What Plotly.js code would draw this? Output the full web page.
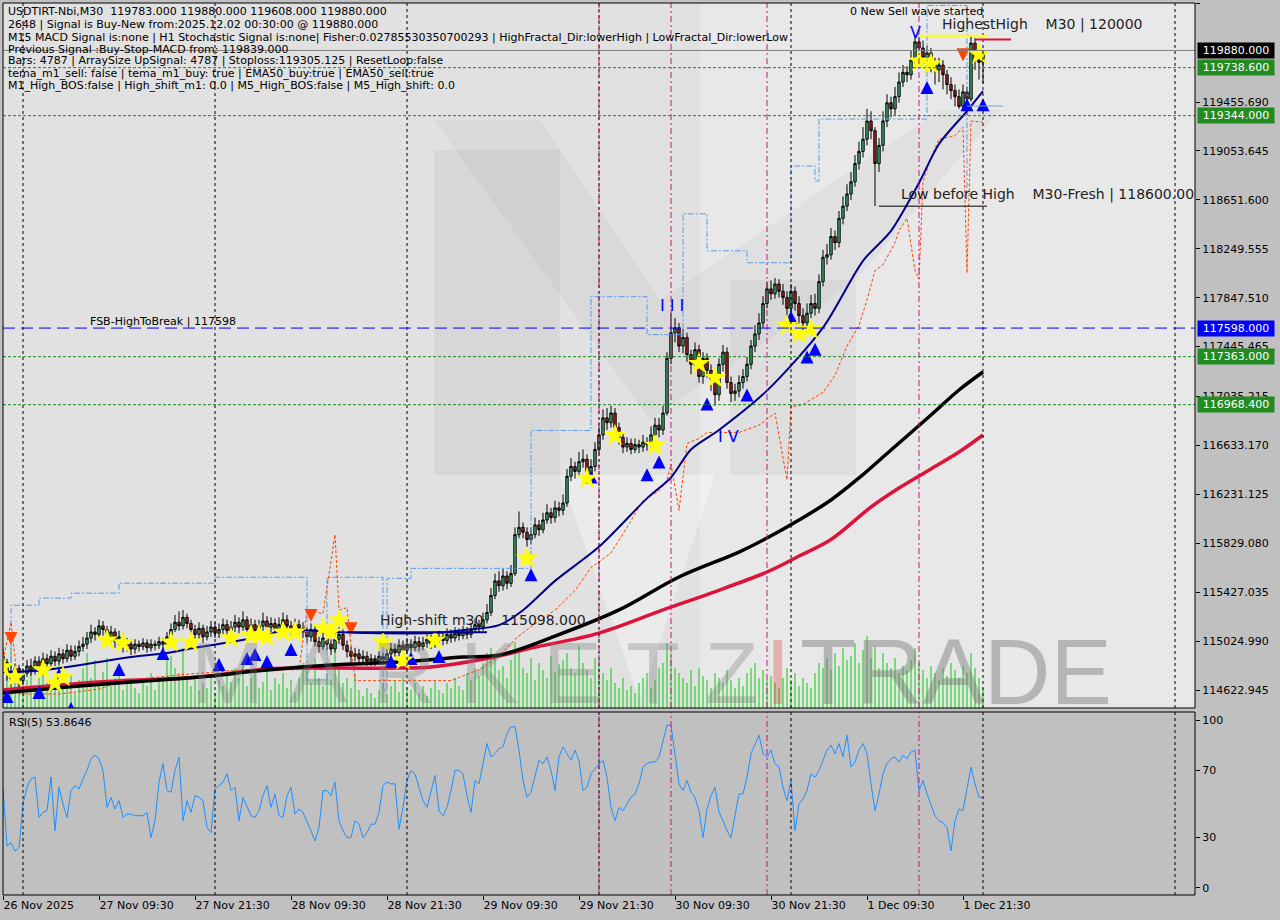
<!DOCTYPE html>
<html><head><meta charset="utf-8">
<script src="https://cdn.plot.ly/plotly-3.0.1.min.js"></script>
<style>html,body{margin:0;padding:0;background:#c0c0c0;}#chart{width:1280px;height:920px;}</style>
</head><body><div id="chart"></div>
<script>
// ---------------- DATA ----------------
const symbolName = "USDTIRT-Nbi,M30";
const tickBars = [0,24,48,72,96,120,144,168,192,216,240];
const tickLabels = ["26 Nov 2025","27 Nov 09:30","27 Nov 21:30","28 Nov 09:30","28 Nov 21:30","29 Nov 09:30","29 Nov 21:30","30 Nov 09:30","30 Nov 21:30","1 Dec 09:30","1 Dec 21:30"];
const priceTicks = [120267.985,119455.690,119053.645,118651.600,118249.555,117847.510,117445.465,117035.215,116633.170,116231.125,115829.080,115427.035,115024.990,114622.945];
const rsiTicks = [0,30,70,100];

const opens = [114900,114850,114780,114720,114800,114700,114760,114820,114780,114860,
114800,114880,114840,114900,114860,114920,114880,114950,114900,114940,
114980,115000,115050,115100,115080,115150,115120,115060,115100,115020,
115060,114980,115000,114960,115000,114980,115010,114970,115000,114990,
115020,115000,115060,115120,115180,115150,115220,115170,115120,115080,
115130,115060,115100,115140,115090,115120,115160,115110,115140,115180,
115140,115200,115120,115160,115110,115150,115190,115140,115170,115120,
115160,115200,115150,115110,115160,115130,115100,115060,115120,115020,
114980,115050,115000,114960,115040,115080,114990,114940,114900,114920,
114880,114900,114860,114880,114860,114900,114870,114920,114960,114930,
114990,114950,115000,114970,115020,114980,115010,115040,115000,115040,
115060,115030,115080,115050,115090,115070,115100,115080,115120,115160,
115140,115200,115260,115400,115520,115480,115560,115500,115580,115900,
115960,115920,115860,115900,115980,115940,116020,116080,116040,116120,
116100,116160,116380,116460,116420,116500,116520,116380,116460,116600,
116720,116860,116820,116900,116780,116700,116620,116650,116600,116640,
116620,116660,116640,116720,116800,116760,116900,117350,117560,117600,
117450,117520,117380,117300,117420,117200,117350,117250,117180,117050,
117300,117400,117150,117060,117080,117150,117200,117300,117450,117550,
117640,117800,117920,117880,117960,117900,117850,117760,117900,117800,
117700,117640,117720,117800,117760,117980,118180,118200,118350,118300,
118500,118600,118700,118800,118950,119050,119150,119300,119220,118950,
119100,119300,119450,119400,119500,119620,119700,119680,119800,119950,
119900,119820,119860,119780,119720,119760,119680,119600,119550,119500,
119420,119540,119480,119940,119800,119783];

const highs = [114960,114880,114820,114840,114830,114800,114870,114880,114900,114900,
114930,114920,114950,114940,114970,114960,115000,114990,114990,115030,
115060,115100,115160,115140,115200,115190,115150,115150,115130,115110,
115090,115050,115040,115040,115030,115050,115040,115040,115030,115060,
115050,115100,115170,115240,115270,115280,115250,115200,115160,115180,
115160,115150,115190,115180,115170,115210,115200,115190,115240,115220,
115270,115230,115210,115200,115200,115260,115230,115220,115210,115220,
115260,115240,115190,115210,115200,115180,115140,115170,115150,115060,
115100,115090,115040,115110,115140,115120,115030,114980,114970,114960,
114950,114940,114920,114910,114940,114930,114970,115010,115000,115040,
115030,115050,115040,115070,115060,115060,115090,115080,115090,115110,
115100,115130,115120,115140,115130,115150,115140,115170,115210,115200,
115260,115330,115460,115580,115600,115620,115600,115650,115960,116090,
116000,115960,115960,116040,116020,116080,116150,116120,116180,116170,
116230,116440,116530,116500,116580,116600,116560,116520,116660,116780,
116930,116940,116960,116940,116820,116740,116700,116690,116690,116680,
116720,116700,116790,116860,116860,116960,117400,117720,117680,117640,
117590,117560,117420,117480,117460,117400,117390,117300,117220,117350,
117460,117440,117200,117140,117210,117260,117360,117500,117620,117720,
117860,117980,117990,118010,118000,117960,117900,117960,117940,117860,
117760,117800,117870,117880,118040,118240,118290,118420,118400,118560,
118680,118780,118880,119020,119130,119250,119400,119380,119250,119160,
119380,119520,119500,119580,119700,119760,119750,119880,120000,119990,
119960,119920,119900,119820,119820,119800,119720,119660,119600,119560,
119600,119580,119990,119980,119860,119880];

const lows = [114800,114700,114650,114690,114640,114660,114730,114740,114750,114760,
114780,114800,114810,114820,114830,114840,114850,114860,114870,114900,
114940,114960,115010,115030,115050,115070,115020,115010,114970,114980,
114930,114940,114910,114920,114940,114950,114930,114940,114950,114960,
114960,114970,115030,115100,115110,115120,115130,115080,115030,115040,
115010,115030,115060,115050,115050,115080,115070,115070,115100,115090,
115110,115080,115080,115060,115070,115110,115090,115100,115080,115090,
115120,115100,115060,115070,115080,115050,115010,115020,114980,114930,
114950,114950,114910,114930,115000,114950,114890,114850,114860,114830,
114840,114820,114820,114820,114830,114830,114840,114890,114890,114900,
114910,114920,114930,114940,114940,114950,114970,114960,114970,115000,
114990,115000,115010,115020,115030,115040,115040,115050,115090,115100,
115110,115170,115230,115370,115430,115440,115450,115470,115560,115870,
115870,115800,115820,115870,115890,115910,115990,115990,116000,116050,
116060,116130,116340,116360,116390,116450,116320,116340,116420,116560,
116680,116760,116780,116720,116640,116570,116580,116560,116570,116570,
116580,116590,116600,116680,116700,116720,116880,117300,117480,117400,
117390,117320,117220,117260,117150,117140,117190,117080,116960,117000,
117240,117100,116990,117000,117030,117100,117160,117260,117400,117500,
117600,117760,117830,117840,117850,117790,117700,117720,117740,117620,
117580,117600,117680,117700,117720,117940,118120,118160,118240,118260,
118450,118560,118650,118760,118900,119000,119100,119150,118600,118880,
119050,119250,119330,119350,119450,119580,119620,119640,119760,119820,
119760,119740,119700,119600,119620,119560,119520,119480,119420,119400,
119380,119350,119460,119720,119640,119608];

const closes = [114850,114780,114720,114800,114700,114760,114820,114780,114860,114800,
114880,114840,114900,114860,114920,114880,114950,114900,114940,114980,
115000,115050,115100,115080,115150,115120,115060,115100,115020,115060,
114980,115000,114960,115000,114980,115010,114970,115000,114990,115020,
115000,115060,115120,115180,115150,115220,115170,115120,115080,115130,
115060,115100,115140,115090,115120,115160,115110,115140,115180,115140,
115200,115120,115160,115110,115150,115190,115140,115170,115120,115160,
115200,115150,115110,115160,115130,115100,115060,115120,115020,114980,
115050,115000,114960,115040,115080,114990,114940,114900,114920,114880,
114900,114860,114880,114860,114900,114870,114920,114960,114930,114990,
114950,115000,114970,115020,114980,115010,115040,115000,115040,115060,
115030,115080,115050,115090,115070,115100,115080,115120,115160,115140,
115200,115260,115400,115520,115480,115560,115500,115580,115900,115960,
115920,115860,115900,115980,115940,116020,116080,116040,116120,116100,
116160,116380,116460,116420,116500,116520,116380,116460,116600,116720,
116860,116820,116900,116780,116700,116620,116650,116600,116640,116620,
116660,116640,116720,116800,116760,116900,117350,117560,117600,117450,
117520,117380,117300,117420,117200,117350,117250,117180,117050,117300,
117400,117150,117060,117080,117150,117200,117300,117450,117550,117640,
117800,117920,117880,117960,117900,117850,117760,117900,117800,117700,
117640,117720,117800,117760,117980,118180,118200,118350,118300,118500,
118600,118700,118800,118950,119050,119150,119300,119220,118950,119100,
119300,119450,119400,119500,119620,119700,119680,119800,119950,119900,
119820,119860,119780,119720,119760,119680,119600,119550,119500,119420,
119540,119480,119940,119800,119783,119880];

const volumes = [30,45,60,25,35,20,28,40,22,30,
35,25,18,30,45,20,26,33,15,28,
40,55,30,48,25,36,50,22,30,44,
18,25,30,20,15,28,22,35,18,26,
30,48,52,40,35,60,28,22,30,18,
25,20,32,15,28,22,35,26,40,30,
45,22,30,38,20,26,42,18,30,24,
35,20,28,16,30,45,38,26,50,30,
22,35,28,60,40,25,30,20,35,18,
12,20,15,10,18,25,14,22,28,16,
30,20,18,25,15,22,12,20,28,18,
15,25,20,30,22,18,35,28,40,32,
45,55,60,50,38,42,30,48,66,55,
40,35,50,28,45,38,30,52,36,44,
48,55,40,35,62,45,38,30,50,42,
35,28,40,25,20,30,18,22,15,25,
30,35,20,28,40,45,65,55,40,35,
30,25,38,22,40,32,28,20,35,30,
25,38,28,20,30,22,35,40,45,30,
38,28,32,25,20,30,40,28,35,22,
30,25,20,35,45,40,50,38,55,42,
60,48,52,65,45,58,72,50,62,40,
55,45,40,50,35,42,38,48,60,45,
38,30,42,35,28,40,32,45,38,30,
42,35,55,40,30,20];

const rsiValues = [60,25,27,22,24,50,60,65,66,42,
45,46,66,34,60,50,42,58,61,59,
65,70,77,79,77,70,48,54,47,52,
42,44,44,43,43,43,45,30,40,63,
74,58,57,70,78,40,52,45,55,54,
52,36,33,59,61,63,68,58,60,40,
54,48,43,42,46,55,61,48,56,43,
42,55,60,44,47,45,40,34,28,36,
58,58,55,63,40,34,30,30,40,38,
30,33,38,38,45,61,63,62,62,35,
48,64,70,68,60,52,48,58,67,46,
43,48,58,70,70,68,55,45,64,62,
74,86,78,80,83,84,92,96,96,82,
64,54,57,66,76,74,78,70,58,78,
84,80,76,82,76,58,60,68,71,74,
76,66,48,40,48,46,50,54,56,62,
72,74,75,75,78,88,97,97,80,62,
58,64,57,54,46,30,47,55,60,45,
40,34,30,42,56,56,66,80,86,91,
80,78,82,74,72,60,52,64,34,50,
53,58,68,66,70,76,82,85,80,86,
78,91,72,75,82,86,80,62,46,56,
68,74,77,78,75,79,77,81,82,58,
64,56,50,43,40,39,36,22,40,47,
46,58,72,62,54,53.8646];

const ema50Bars = [0,8,16,24,32,41,49,57,66,70,83,91,107,115,124,130,138,149,161,167,172,179,191,205,215,222,229,234,241,245];
const ema50Vals = [114771,114779,114812,114853,114894,114927,114976,115017,115074,115115,115099,115091,115091,115115,115156,115279,115520,115800,116198,116370,116600,116760,117084,117601,118151,118397,118791,119111,119382,119546];
const ema100Bars = [0,16,32,49,66,82,99,115,124,138,154,169,184,191,199,207,214,222,232,239,245];
const ema100Vals = [114598,114648,114689,114730,114787,114828,114853,114894,114910,115066,115281,115552,115757,115872,116020,116185,116366,116596,116883,117089,117237];
const ema200Bars = [0,24,49,66,82,99,107,124,132,149,165,177,191,199,207,217,224,232,239,245];
const ema200Vals = [114623,114689,114730,114795,114803,114803,114812,114902,114967,115091,115281,115420,115593,115724,115860,116127,116283,116440,116579,116719];
const trailBars = [0,2,4,14,24,30,45,60,74,76,80,83,84,86,88,96,112,119,124,128,131,138,143,147,152,156,160,164,166,167,169,171,174,176,184,189,193,196,197,200,202,205,208,211,214,216,218,220,223,224,226,228,229,230,232,234,238,240,241,242,245];
const trailVals = [114870,115180,114590,114590,114630,114700,114750,114790,114790,115280,115250,115900,115280,115300,114700,114700,114700,114790,114900,115040,115120,115280,115440,115630,115750,115960,116180,116260,116350,116480,116100,116650,116690,116740,116740,116800,116900,116350,116950,116970,117010,117070,117210,117450,117620,117830,118070,118120,118300,118400,118500,118070,118000,118800,119000,119150,119180,119250,118050,119300,119290];
const upperBars = [0,2,9,17,29,53,76,81,95,96,102,132,147,161,170,176,186,197,203,204,231,241];
const upperVals = [114623,115320,115378,115419,115501,115550,114705,115550,114623,115541,115623,116756,117856,117544,118537,118233,118135,118930,118807,119316,120250,118725];

const starBars = [0,3,10,13,15,26,30,42,47,57,62,64,66,70,73,80,82,84,95,100,108,131,146,153,163,174,178,196,199,202,229,232,244];
const starPrices = [114812,114730,114787,114680,114730,115033,115009,115017,115017,115050,115074,115074,115058,115099,115099,115132,115099,115197,115017,114869,115033,115706,116362,116715,116633,117306,117191,117618,117552,117585,119792,119767,119849];
const buyBars = [1,9,14,17,29,40,54,61,63,66,72,97,102,109,132,147,161,164,176,186,197,201,203,231,241,245];
const buyPrices = [114623,114656,114803,114525,114845,114976,114886,114935,114968,114910,115009,114910,114935,114951,115624,116428,116445,116551,117027,117101,117741,117413,117478,119628,119488,119488];
const sellBars = [2,77,87,240];
const sellPrices = [114992,115181,115074,119792];

const bidPrice = 119880;
const greenLevels = [119738.6,119344,117363,116968.4];
const fsbLevel = 117598;
const highestHigh = 120000;
const lowBeforeHigh = 118600;
const highShift = 115098;
const daySepBars = [5,53,101,149,197,245,293];
const waveBars = [149,167,191,229];

const headerLines = [
 "USDTIRT-Nbi,M30  119783.000 119880.000 119608.000 119880.000",
 "2648 | Signal is Buy-New from:2025.12.02 00:30:00 @ 119880.000",
 "M15 MACD Signal is:none | H1 Stochastic Signal is:none| Fisher:0.02785530350700293 | HighFractal_Dir:lowerHigh | LowFractal_Dir:lowerLow",
 "Previous Signal :Buy-Stop-MACD from: 119839.000",
 "Bars: 4787 | ArraySize UpSignal: 4787 | Stoploss:119305.125 | ResetLoop:false",
 "tema_m1_sell: false | tema_m1_buy: true | EMA50_buy:true | EMA50_sell:true",
 "M1_High_BOS:false | High_shift_m1: 0.0 | M5_High_BOS:false | M5_High_shift: 0.0"
];

// ---------------- BUILD ----------------
const bars = opens.map((_, i) => i);
const L = 3, R = 1195, T = 3, B = 895;
const px = x => (x - L) / (R - L);
const py = y => (B - y) / (B - T);
const mainBottom = py(708), rsiTop = py(712);
const nb = s => s.replace(/ /g, "\u00a0");
const FONT = "DejaVu Sans, Verdana, sans-serif";

const traces = [];
traces.push({type:'bar', x:bars, y:volumes, xaxis:'x', yaxis:'y', width:0.3,
  marker:{color:'#32cd32', line:{width:0}}, hoverinfo:'skip'});
traces.push({type:'scatter', mode:'lines', x:upperBars, y:upperVals, xaxis:'x', yaxis:'y3',
  line:{color:'#5a9be6', width:1, dash:'6px,2px,2px,2px', shape:'hv'}, hoverinfo:'skip'});
traces.push({type:'scatter', mode:'lines', x:trailBars, y:trailVals, xaxis:'x', yaxis:'y3',
  line:{color:'#ff4500', width:1, dash:'3px,2px'}, hoverinfo:'skip'});
traces.push({type:'scatter', mode:'lines', x:ema200Bars, y:ema200Vals, xaxis:'x', yaxis:'y3',
  line:{color:'#dc143c', width:3.5, shape:'spline', smoothing:1}, hoverinfo:'skip'});
traces.push({type:'scatter', mode:'lines', x:ema100Bars, y:ema100Vals, xaxis:'x', yaxis:'y3',
  line:{color:'#000000', width:3.5, shape:'spline', smoothing:1}, hoverinfo:'skip'});
traces.push({type:'scatter', mode:'lines', x:ema50Bars, y:ema50Vals, xaxis:'x', yaxis:'y3',
  line:{color:'#00008b', width:2, shape:'spline', smoothing:0.8}, hoverinfo:'skip'});
traces.push({type:'candlestick', x:bars, open:opens, high:highs, low:lows, close:closes,
  xaxis:'x', yaxis:'y3', whiskerwidth:0, hoverinfo:'skip',
  increasing:{line:{color:'#000000', width:1}, fillcolor:'#3cb371'},
  decreasing:{line:{color:'#000000', width:1}, fillcolor:'#b22222'}});
traces.push({type:'scatter', mode:'markers', x:buyBars, y:buyPrices, xaxis:'x', yaxis:'y3',
  marker:{symbol:'arrow-up', size:13, color:'#0000ff', line:{width:0}}, hoverinfo:'skip'});
traces.push({type:'scatter', mode:'markers', x:sellBars, y:sellPrices, xaxis:'x', yaxis:'y3',
  marker:{symbol:'arrow-down', size:13, color:'#ff4500', line:{width:0}}, hoverinfo:'skip'});
traces.push({type:'scatter', mode:'markers', x:starBars, y:starPrices, xaxis:'x', yaxis:'y3',
  marker:{symbol:'star', size:17, color:'#ffff00', line:{width:0}}, hoverinfo:'skip'});
traces.push({type:'scatter', mode:'lines', x:bars, y:rsiValues, xaxis:'x', yaxis:'y2',
  line:{color:'#1e90ff', width:1}, hoverinfo:'skip'});

const shapes = [];
shapes.push({type:'rect', xref:'paper', yref:'paper', x0:0, x1:1, y0:mainBottom, y1:1,
  fillcolor:'#e1e1e1', line:{width:0}, layer:'below'});
shapes.push({type:'rect', xref:'paper', yref:'paper', x0:px(700), x1:1, y0:mainBottom, y1:1,
  fillcolor:'rgba(255,255,255,0.25)', line:{width:0}, layer:'below'});
const wm = 'rgba(0,0,0,0.045)';
shapes.push({type:'rect', xref:'paper', yref:'paper', x0:px(434), x1:px(560), y0:py(475), y1:py(150), fillcolor:wm, line:{width:0}, layer:'below'});
shapes.push({type:'rect', xref:'paper', yref:'paper', x0:px(730), x1:px(856), y0:py(475), y1:py(280), fillcolor:wm, line:{width:0}, layer:'below'});
shapes.push({type:'path', xref:'paper', yref:'paper',
  path:`M ${px(434)} ${py(120)} L ${px(540)} ${py(120)} L ${px(660)} ${py(300)} L ${px(940)} ${py(110)} L ${px(1000)} ${py(110)} L ${px(856)} ${py(280)} L ${px(650)} ${py(420)} Z`,
  fillcolor:'rgba(0,0,0,0.03)', line:{width:0}, layer:'below'});
shapes.push({type:'path', xref:'paper', yref:'paper',
  path:`M ${px(560)} ${py(475)} L ${px(715)} ${py(475)} L ${px(640)} ${py(700)} Z`,
  fillcolor:'rgba(255,255,255,0.35)', line:{width:0}, layer:'below'});

daySepBars.forEach(b => {
  [[mainBottom,1],[0,rsiTop]].forEach(([a,c]) => shapes.push({type:'line', xref:'x', yref:'paper', x0:b, x1:b, y0:a, y1:c,
    line:{color:'#000000', width:1, dash:'3px,3px'}}));
});
waveBars.forEach(b => {
  [[mainBottom,1],[0,rsiTop]].forEach(([a,c]) => shapes.push({type:'line', xref:'x', yref:'paper', x0:b, x1:b, y0:a, y1:c,
    line:{color:'#c71585', width:1, dash:'6px,3px,2px,3px'}}));
});
greenLevels.forEach(v => shapes.push({type:'line', xref:'paper', yref:'y3', x0:0, x1:1, y0:v, y1:v,
  line:{color:'#1a8a1a', width:1, dash:'3px,2px'}}));
shapes.push({type:'line', xref:'paper', yref:'y3', x0:0, x1:1, y0:fsbLevel, y1:fsbLevel,
  line:{color:'#0000ff', width:1, dash:'12px,6px'}});
shapes.push({type:'line', xref:'paper', yref:'y3', x0:0, x1:1, y0:bidPrice, y1:bidPrice,
  line:{color:'#808080', width:1}});
shapes.push({type:'line', xref:'x', yref:'y3', x0:229, x1:246, y0:highestHigh, y1:highestHigh, line:{color:'#ffff00', width:2}});
shapes.push({type:'line', xref:'x', yref:'y3', x0:243, x1:252, y0:highestHigh-30, y1:highestHigh-30, line:{color:'#dc143c', width:2}});
shapes.push({type:'line', xref:'x', yref:'y3', x0:219, x1:246, y0:lowBeforeHigh, y1:lowBeforeHigh, line:{color:'#000000', width:1}});
shapes.push({type:'line', xref:'x', yref:'y3', x0:241, x1:250, y0:119423, y1:119423, line:{color:'#6fa8dc', width:1}});
shapes.push({type:'line', xref:'x', yref:'y3', x0:86, x1:121, y0:highShift, y1:highShift, line:{color:'#00008b', width:2}});
shapes.push({type:'rect', xref:'paper', yref:'paper', x0:0, x1:1, y0:mainBottom, y1:1, line:{color:'#000', width:1}, fillcolor:'rgba(0,0,0,0)'});
shapes.push({type:'rect', xref:'paper', yref:'paper', x0:0, x1:1, y0:0, y1:rsiTop, line:{color:'#000', width:1}, fillcolor:'rgba(0,0,0,0)'});

const ann = [];
const txt = (x, y, s, size, color, extra) => ann.push(Object.assign({xref:'paper', yref:'paper', x:px(x), y:py(y),
  xanchor:'left', yanchor:'middle', text:nb(s), showarrow:false, font:{family:FONT, size:size, color:color}}, extra || {}));
ann.push({xref:'paper', yref:'paper', x:px(760), y:py(672), xanchor:'right', yanchor:'middle', showarrow:false,
  text:nb("M A R K E T Z"), font:{family:'Liberation Sans, Arial, sans-serif', size:88, color:'rgba(120,120,120,0.32)'}});
ann.push({xref:'paper', yref:'paper', x:px(763), y:py(672), xanchor:'left', yanchor:'middle', showarrow:false,
  text:"I", font:{family:'Liberation Sans, Arial, sans-serif', size:92, color:'rgba(220,70,70,0.35)'}});
ann.push({xref:'paper', yref:'paper', x:px(798), y:py(672), xanchor:'left', yanchor:'middle', showarrow:false,
  text:"TRADE", font:{family:'Liberation Sans, Arial, sans-serif', size:92, color:'rgba(120,120,120,0.45)'}});

const headerY = [12,24,37,49,61,73,85];
headerLines.forEach((s, k) => txt(6, headerY[k], s, 11, '#000'));
txt(848, 12, "0 New Sell wave started", 11, '#000');
txt(940, 24, "HighestHigh    M30 | 120000", 14, '#222');
txt(899, 194, "Low before High    M30-Fresh | 118600.00", 14, '#222');
txt(378, 620, "High-shift m30    115098.000", 14, '#222');
txt(88, 321, "FSB-HighToBreak | 117598", 11, '#000');
txt(658, 305, "I I I", 16, '#0000ff');
txt(716, 437, "I V", 16, '#0000ff');
txt(908, 32, "V", 16, '#0000ff');
txt(7, 722, "RSI(5) 53.8646", 11, '#000');

const boxes = [[bidPrice,'#000000'],[greenLevels[0],'#228b22'],[greenLevels[1],'#228b22'],[fsbLevel,'#0000ff'],[greenLevels[2],'#228b22'],[greenLevels[3],'#228b22']];
boxes.forEach(([v,c]) => ann.push({xref:'paper', yref:'y3', x:px(1197), y:v, xanchor:'left', yanchor:'middle',
  text:v.toFixed(3), showarrow:false, bgcolor:c, borderpad:1, width:74, align:'center',
  font:{family:FONT, size:11, color:'#ffffff'}}));

const layout = {
  width:1280, height:920, margin:{l:3, r:85, t:3, b:25},
  paper_bgcolor:'#c0c0c0', plot_bgcolor:'rgba(0,0,0,0)',
  showlegend:false, hovermode:false, dragmode:false, boxgap:0.15,
  font:{family:FONT, size:11, color:'#000'},
  xaxis:{range:[0,298], anchor:'y2', showgrid:false, zeroline:false, showline:false,
    ticks:'outside', ticklen:4, tickcolor:'#000', tickvals:tickBars, ticktext:tickLabels,
    ticklabelposition:'outside right', tickfont:{family:FONT, size:11, color:'#000'},
    rangeslider:{visible:false}, fixedrange:true},
  yaxis:{domain:[mainBottom,1], range:[0,705], visible:false, fixedrange:true},
  yaxis3:{overlaying:'y', side:'right', anchor:'x', range:[114475,120270], tickvals:priceTicks,
    ticktext:priceTicks.map(v => v.toFixed(3)), ticks:'outside', ticklen:4, tickcolor:'#000',
    showgrid:false, zeroline:false, showline:false, tickfont:{family:FONT, size:11, color:'#000'}, fixedrange:true},
  yaxis2:{domain:[0,rsiTop], range:[-4.2,104.8], side:'right', anchor:'x', tickvals:rsiTicks,
    ticks:'outside', ticklen:4, tickcolor:'#000', showgrid:false, zeroline:false, showline:false,
    tickfont:{family:FONT, size:11, color:'#000'}, fixedrange:true},
  shapes:shapes, annotations:ann
};
Plotly.newPlot('chart', traces, layout, {staticPlot:true, displayModeBar:false});
</script></body></html>
